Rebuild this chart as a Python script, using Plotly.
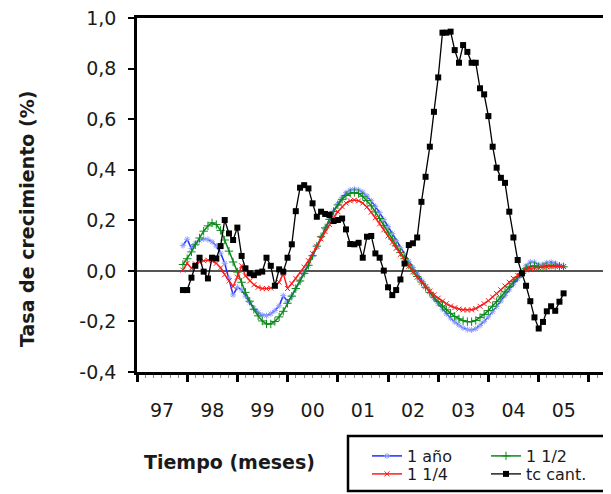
import pandas as pd
import plotly.graph_objects as go

# Monthly observations, Dec 1997 .. Jul 2005
months = pd.date_range("1997-12-01", "2005-07-01", freq="MS")

serie_1_ano = [
    0.100, 0.125, 0.088, 0.108, 0.120, 0.126, 0.124, 0.115, 0.098, 0.070,
    0.030, -0.030, -0.095, -0.065, -0.075, -0.100, -0.125, -0.148, -0.165, -0.175,
    -0.177, -0.170, -0.157, -0.138, -0.098, -0.122, -0.100, -0.070, -0.040, -0.008,
    0.022, 0.058, 0.095, 0.132, 0.168, 0.203, 0.236, 0.265, 0.290, 0.309,
    0.320, 0.323, 0.320, 0.311, 0.296, 0.277, 0.255, 0.230, 0.203, 0.175,
    0.147, 0.119, 0.091, 0.064, 0.038, 0.013, -0.012, -0.037, -0.061, -0.085,
    -0.108, -0.130, -0.151, -0.170, -0.187, -0.202, -0.215, -0.226, -0.232, -0.234,
    -0.229, -0.216, -0.200, -0.182, -0.162, -0.141, -0.119, -0.097, -0.075, -0.053,
    -0.031, -0.010, 0.020, 0.035, 0.034, 0.024, 0.025, 0.032, 0.034, 0.030,
    0.022, 0.016,
]

serie_1_1_2 = [
    0.025, 0.048, 0.075, 0.103, 0.130, 0.157, 0.178, 0.190, 0.183, 0.160,
    0.122, 0.078, 0.035, -0.005, -0.045, -0.085, -0.120, -0.152, -0.178, -0.198,
    -0.210, -0.210, -0.200, -0.182, -0.160, -0.128, -0.100, -0.070, -0.040, -0.010,
    0.022, 0.060, 0.098, 0.135, 0.170, 0.204, 0.235, 0.261, 0.283, 0.298,
    0.307, 0.310, 0.306, 0.295, 0.278, 0.257, 0.233, 0.207, 0.180, 0.153,
    0.126, 0.099, 0.073, 0.048, 0.023, 0.000, -0.022, -0.044, -0.065, -0.085,
    -0.104, -0.122, -0.139, -0.154, -0.168, -0.180, -0.190, -0.197, -0.201, -0.201,
    -0.196, -0.185, -0.172, -0.157, -0.140, -0.122, -0.103, -0.083, -0.063, -0.043,
    -0.025, -0.010, 0.010, 0.018, 0.020, 0.016, 0.016, 0.020, 0.022, 0.021,
    0.018, 0.016,
]

serie_1_1_4 = [
    0.003, 0.030, 0.010, 0.028, 0.035, 0.040, 0.042, 0.040, 0.030, 0.012,
    -0.015, -0.040, -0.062, -0.025, 0.020, -0.020, -0.040, -0.055, -0.065, -0.070,
    -0.070, -0.068, -0.060, -0.045, -0.010, -0.070, -0.050, -0.030, -0.008, 0.015,
    0.040, 0.068, 0.097, 0.126, 0.155, 0.183, 0.210, 0.234, 0.254, 0.268,
    0.277, 0.280, 0.277, 0.268, 0.252, 0.232, 0.210, 0.186, 0.162, 0.138,
    0.113, 0.089, 0.065, 0.042, 0.018, -0.004, -0.025, -0.045, -0.063, -0.080,
    -0.095, -0.108, -0.120, -0.130, -0.139, -0.146, -0.151, -0.154, -0.155, -0.154,
    -0.149, -0.140, -0.130, -0.118, -0.104, -0.090, -0.075, -0.060, -0.045, -0.030,
    -0.018, -0.008, 0.004, 0.010, 0.012, 0.012, 0.014, 0.016, 0.017, 0.018,
    0.018, 0.017,
]

serie_tc_cant = [
    -0.076, -0.076, -0.027, 0.020, 0.052, -0.003, -0.030, 0.052, 0.049, 0.098,
    0.201, 0.148, 0.122, 0.171, 0.059, 0.010, -0.010, -0.017, -0.007, -0.003,
    0.052, 0.020, -0.059, 0.006, -0.003, 0.052, 0.105, 0.236, 0.329, 0.339,
    0.326, 0.267, 0.214, 0.234, 0.225, 0.221, 0.197, 0.201, 0.207, 0.164,
    0.106, 0.105, 0.111, 0.052, 0.135, 0.138, 0.069, 0.052, 0.001, -0.065,
    -0.096, -0.076, -0.034, 0.029, 0.102, 0.109, 0.132, 0.273, 0.372, 0.491,
    0.629, 0.765, 0.942, 0.942, 0.946, 0.873, 0.823, 0.893, 0.866, 0.823,
    0.823, 0.722, 0.698, 0.612, 0.491, 0.408, 0.368, 0.348, 0.234, 0.132,
    0.043, -0.010, -0.059, -0.120, -0.184, -0.228, -0.202, -0.160, -0.140, -0.158,
    -0.122, -0.089,
]

y_ticks = [-0.4, -0.2, 0.0, 0.2, 0.4, 0.6, 0.8, 1.0]
y_tick_text = ["-0,4", "-0,2", "0,0", "0,2", "0,4", "0,6", "0,8", "1,0"]

FONT = "DejaVu Sans"
TXT = "#1a1a1a"

fig = go.Figure()
fig.add_trace(go.Scatter(
    x=months, y=serie_1_ano, name="1 año", mode="lines+markers",
    line=dict(color="#1f2fff", width=1.5),
    marker=dict(symbol="asterisk-open", size=5, color="#8fa0ff", line=dict(width=1, color="#8fa0ff")),
    legend="legend",
))
fig.add_trace(go.Scatter(
    x=months, y=serie_1_1_2, name="1 1/2", mode="lines+markers",
    line=dict(color="#0a8a1a", width=1.5),
    marker=dict(symbol="cross-thin-open", size=6, color="#0a8a1a", line=dict(width=1, color="#0a8a1a")),
    legend="legend",
))
fig.add_trace(go.Scatter(
    x=months, y=serie_1_1_4, name="1 1/4", mode="lines+markers",
    line=dict(color="#ff1a1a", width=1.5),
    marker=dict(symbol="x-thin-open", size=5, color="#ff1a1a", line=dict(width=1, color="#ff1a1a")),
    legend="legend2",
))
fig.add_trace(go.Scatter(
    x=months, y=serie_tc_cant, name="tc cant.", mode="lines+markers",
    line=dict(color="#000000", width=1.3),
    marker=dict(symbol="square", size=6, color="#000000"),
    legend="legend2",
))

# The page body adds an 8 px offset; work in screenshot pixels and subtract it.
OFF = 8
W, H = 611 - OFF, 494 - OFF
PLOT_L, PLOT_R, PLOT_T, PLOT_B = 137, 608, 18, 372   # screenshot pixels
L, R, T, B = PLOT_L - OFF, W - (PLOT_R - OFF), PLOT_T - OFF, H - (PLOT_B - OFF)
PW, PH = PLOT_R - PLOT_L, PLOT_B - PLOT_T


def px(x):
    return (x - PLOT_L) / PW


def py(y):
    return (PLOT_B - y) / PH


legend_common = dict(orientation="h", xanchor="left", yanchor="middle",
                     font=dict(family=FONT, size=16, color=TXT), entrywidth=74,
                     bgcolor="rgba(0,0,0,0)", borderwidth=0, tracegroupgap=0)

fig.update_layout(
    width=W, height=H,
    margin=dict(l=L, r=R, t=T, b=B, autoexpand=False),
    paper_bgcolor="white", plot_bgcolor="white",
    separators=",.",
    font=dict(family=FONT, size=19, color=TXT),
    showlegend=True,
    legend=dict(x=px(367), y=py(456), **legend_common),
    legend2=dict(x=px(367), y=py(474), **legend_common),
    shapes=[dict(type="rect", xref="paper", yref="paper",
                 x0=px(348), x1=px(607), y0=py(491), y1=py(436),
                 line=dict(color="black", width=2.5), fillcolor="rgba(0,0,0,0)")],
    annotations=[
        dict(text="<b>Tasa de crecimiento (%)</b>", textangle=-90, xref="paper", yref="paper",
             x=px(27), y=py(219), xanchor="center", yanchor="middle", showarrow=False,
             font=dict(family=FONT, size=19, color=TXT)),
        dict(text="<b>Tiempo (meses)</b>", xref="paper", yref="paper",
             x=px(229), y=py(462), xanchor="center", yanchor="middle", showarrow=False,
             font=dict(family=FONT, size=19, color=TXT)),
    ],
)

fig.update_xaxes(
    type="date", range=["1997-01-01", "2006-05-20"],
    tick0="1997-01-01", dtick="M12", tickformat="%y", ticklabelmode="period",
    ticks="outside", ticklen=7, tickwidth=2.5, tickcolor="black",
    minor=dict(dtick="M2", ticks="outside", ticklen=3, tickwidth=1, tickcolor="#888"),
    showline=True, linewidth=2.5, linecolor="black", mirror=True,
    showgrid=False, zeroline=False, ticklabelstandoff=12, ticklabeloverflow="allow",
    tickfont=dict(family=FONT, size=19, color=TXT),
)
fig.update_yaxes(
    range=[-0.4, 1.0], tickvals=y_ticks, ticktext=y_tick_text,
    ticks="outside", ticklen=6, tickwidth=2, tickcolor="black",
    showline=True, linewidth=2.5, linecolor="black", mirror=True,
    showgrid=False, zeroline=True, zerolinecolor="#555555", zerolinewidth=2,
    ticklabelstandoff=8, ticklabeloverflow="allow",
    tickfont=dict(family=FONT, size=19, color=TXT),
)

fig.write_html("out.html")
